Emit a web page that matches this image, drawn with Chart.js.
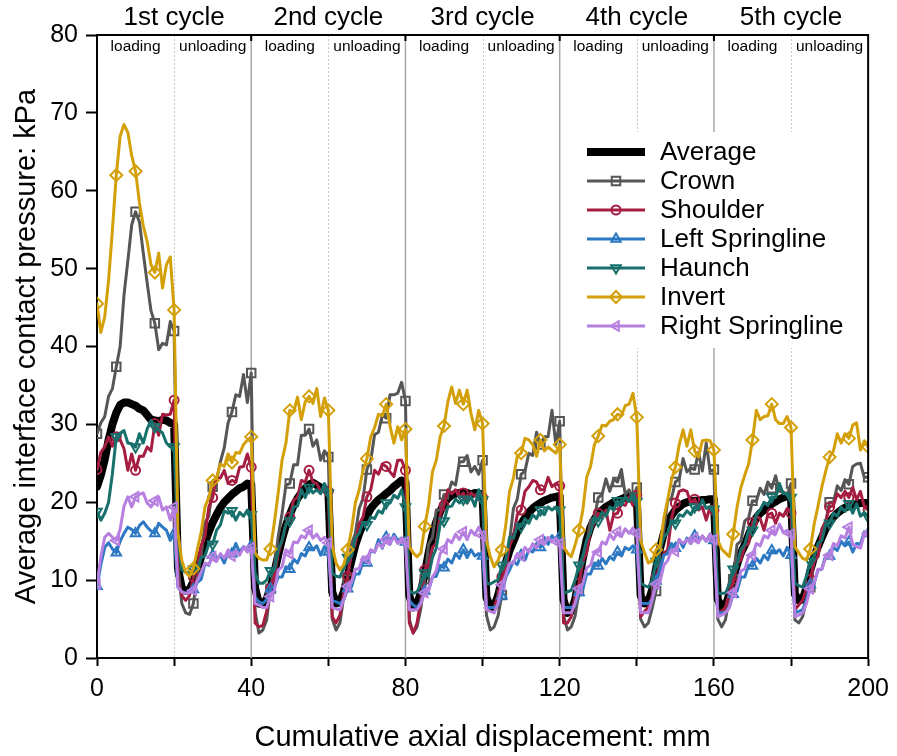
<!DOCTYPE html>
<html><head><meta charset="utf-8">
<script src="https://cdn.jsdelivr.net/npm/chart.js@4.4.1/dist/chart.umd.min.js"></script>
<style>html,body{margin:0;padding:0;background:#fff;}#wrap{width:897px;height:756px;}</style>
</head><body><div id="wrap"><canvas id="c" width="897" height="756"></canvas></div>
<script>
const displacement = [0,1,2,3,4,5,6,7,8,9,10,11,12,13,14,15,16,17,18,19,20,21,22,23,24,25,26,27,28,29,30,31,32,33,34,35,36,37,38,39,40,41,42,43,44,45,46,47,48,49,50,51,52,53,54,55,56,57,58,59,60,61,62,63,64,65,66,67,68,69,70,71,72,73,74,75,76,77,78,79,80,81,82,83,84,85,86,87,88,89,90,91,92,93,94,95,96,97,98,99,100,101,102,103,104,105,106,107,108,109,110,111,112,113,114,115,116,117,118,119,120,121,122,123,124,125,126,127,128,129,130,131,132,133,134,135,136,137,138,139,140,141,142,143,144,145,146,147,148,149,150,151,152,153,154,155,156,157,158,159,160,161,162,163,164,165,166,167,168,169,170,171,172,173,174,175,176,177,178,179,180,181,182,183,184,185,186,187,188,189,190,191,192,193,194,195,196,197,198,199,200];

const average = [22.0,23.5,25.5,28.0,30.0,31.5,32.5,32.8,32.8,32.6,32.4,32.0,31.8,31.2,30.6,30.5,30.4,30.6,30.5,30.2,
30.0,11.5,9.0,8.6,8.8,9.8,11.2,13.0,14.8,16.2,17.4,18.4,19.3,20.0,20.5,21.0,21.4,21.8,22.0,22.4,
22.3,9.0,7.0,6.9,7.6,9.0,11.0,13.2,15.3,17.0,18.4,19.6,20.5,21.2,21.8,22.3,22.5,22.2,21.9,21.7,
21.5,8.5,7.0,7.2,8.5,10.5,12.5,14.5,16.0,17.2,18.3,19.2,19.8,20.3,20.7,21.1,21.5,22.0,22.4,22.8,
22.6,8.0,6.5,6.8,8.5,10.8,13.5,15.8,17.5,18.8,19.8,20.5,20.9,21.1,21.2,21.3,21.2,21.0,21.2,21.1,
21.0,7.8,6.5,6.6,8.0,10.0,12.2,13.8,15.0,16.2,17.2,18.0,18.7,19.2,19.6,19.9,20.2,20.4,20.6,20.7,
20.8,7.5,5.8,6.0,7.5,10.0,12.8,15.2,16.8,17.8,18.6,19.0,19.4,19.7,20.0,20.2,20.4,20.6,20.7,20.8,
20.6,8.0,7.0,7.2,8.8,11.5,14.0,16.0,17.4,18.3,19.0,19.4,19.8,20.0,20.1,20.2,20.2,20.3,20.3,20.4,
20.4,7.5,6.5,6.7,8.2,10.2,12.0,13.5,14.5,15.8,17.0,18.0,18.6,19.0,19.4,19.8,20.1,20.4,20.6,20.8,
20.7,8.2,7.4,7.5,9.0,11.2,13.0,14.3,15.5,16.6,17.4,18.1,18.6,19.0,19.3,19.5,19.7,19.8,19.9,19.9,
19.9];

const crown = [28.8,30.2,31.0,33.6,34.6,37.4,40.0,46.6,51.0,55.6,57.3,56.0,52.0,48.2,44.6,43.0,39.6,40.4,40.2,43.2,
42.0,12.0,7.0,5.8,5.6,7.0,10.6,13.0,17.4,18.2,22.0,22.8,25.2,27.0,30.2,31.6,33.8,33.6,36.4,32.8,
36.6,6.0,3.2,3.6,4.9,8.9,11.6,15.6,18.6,22.2,22.4,24.8,24.8,28.6,28.6,29.4,27.2,28.0,25.4,26.6,
25.8,5.0,3.6,4.5,7.9,10.1,14.6,16.0,19.2,20.5,24.2,25.4,28.7,29.0,31.2,30.8,33.8,33.8,34.0,35.4,
33.0,5.0,3.2,4.0,6.4,10.1,14.6,15.5,19.0,19.0,21.0,21.0,22.6,22.2,25.2,25.2,26.0,23.9,24.6,23.6,
25.4,5.5,3.6,4.0,5.4,8.1,12.6,15.0,19.2,20.4,23.6,24.0,26.3,26.0,29.0,27.4,28.4,28.4,31.8,27.4,
30.4,5.5,3.6,4.0,5.4,8.6,13.1,14.6,17.7,18.0,20.6,21.0,23.0,21.4,23.0,22.6,24.2,21.0,21.6,20.2,
21.9,5.0,4.0,4.5,6.4,8.6,13.6,16.4,20.2,20.5,22.6,23.0,25.6,23.9,24.4,24.2,26.4,24.0,27.6,24.0,
24.2,5.0,4.0,4.9,7.9,10.1,14.6,15.0,17.6,18.0,20.2,20.1,21.8,21.0,22.6,21.8,23.4,21.4,21.3,21.0,
22.4,4.9,4.5,5.3,7.4,9.1,12.6,13.0,16.6,17.5,20.0,20.0,22.1,21.5,22.9,22.3,24.6,24.9,25.0,23.2,
23.2];

const shoulder = [24.2,26.4,27.1,28.4,27.2,28.4,28.0,26.9,24.1,26.2,24.1,25.9,25.9,27.1,26.6,30.1,28.6,31.3,31.2,31.3,
33.1,10.0,8.0,7.4,8.0,10.4,11.6,14.4,15.6,19.4,20.6,23.2,23.1,24.1,22.4,22.8,22.6,24.5,24.6,26.2,
24.5,4.5,4.0,4.2,6.0,8.9,10.5,13.4,15.1,17.2,18.1,20.3,20.6,22.8,22.6,24.1,22.6,22.4,21.4,22.0,
21.4,5.3,4.5,5.5,8.4,10.5,13.4,14.6,17.2,18.1,20.7,21.6,24.1,23.6,24.9,24.6,23.9,23.3,25.4,25.4,
24.1,4.5,3.2,4.5,7.5,11.3,12.1,14.2,14.7,18.4,19.6,21.6,21.1,21.6,20.6,21.2,19.9,21.2,20.8,21.2,
20.6,6.2,6.5,6.5,8.0,10.4,11.3,14.4,15.6,18.4,19.0,21.4,22.0,22.8,22.6,21.6,21.6,23.2,22.0,22.4,
22.1,4.5,4.5,5.3,7.9,9.6,12.4,13.6,16.4,17.3,18.6,18.2,19.0,16.4,18.4,18.6,19.8,19.6,20.7,19.6,
20.9,5.3,6.0,6.5,8.0,10.4,11.3,13.4,13.9,17.9,19.9,21.4,21.6,21.4,19.9,20.4,19.0,19.4,17.7,19.4,
19.0,5.8,6.0,6.5,8.4,9.6,12.1,12.6,14.4,14.7,17.4,18.2,17.9,16.4,18.4,18.6,17.3,18.6,18.2,19.2,
18.6,6.2,6.8,7.4,8.9,10.1,12.4,13.1,16.4,17.6,19.4,19.6,21.1,20.6,21.4,20.6,21.9,20.3,21.4,19.4,
19.0];

const leftSpringline = [9.2,12.0,14.2,14.8,14.0,13.5,15.0,16.0,16.8,16.5,16.0,17.0,17.5,16.8,16.3,16.0,17.3,16.8,16.4,15.1,
16.0,9.1,8.5,8.3,8.5,8.8,9.7,10.1,12.1,11.9,13.2,12.6,13.2,12.2,13.6,13.4,14.7,13.6,14.3,13.9,
14.4,7.8,7.2,7.0,7.5,8.9,9.1,10.4,10.4,11.7,11.4,12.7,12.2,13.4,13.1,14.2,13.9,14.4,13.2,14.3,
13.6,7.4,7.2,7.0,7.5,8.9,9.1,10.8,10.8,12.4,12.2,13.8,13.6,15.2,14.1,15.5,14.6,15.9,15.1,15.4,
14.9,7.4,6.8,6.5,7.2,8.6,8.7,10.4,10.5,11.9,11.6,12.7,12.2,13.4,12.8,13.9,12.9,13.9,13.1,13.4,
13.1,6.5,6.5,6.5,6.8,8.0,10.4,11.3,12.4,12.0,13.2,12.6,13.9,13.6,14.7,14.2,15.5,14.6,15.7,15.1,
15.6,6.5,6.5,6.5,6.8,8.4,8.8,10.8,10.8,12.2,11.8,12.8,12.1,13.0,12.6,13.6,13.1,14.2,13.9,14.4,
13.9,7.0,7.0,7.0,7.5,9.9,11.3,13.2,13.4,14.7,14.1,15.2,14.2,15.4,14.7,15.7,15.1,15.6,15.0,15.9,
15.1,5.8,5.8,5.8,6.5,8.2,8.6,10.4,10.4,11.9,11.8,12.8,12.2,13.2,12.6,13.8,13.5,13.9,13.1,14.2,
13.2,5.8,6.0,6.2,7.5,9.4,9.6,11.3,11.4,13.2,13.1,14.2,13.8,15.0,14.4,14.9,13.6,14.7,14.6,16.2,
16.0];

const haunch = [18.8,17.7,18.6,20.0,23.7,28.4,28.9,29.2,27.6,27.5,27.1,28.8,27.6,29.4,30.5,29.7,29.3,28.9,27.6,27.1,
27.1,15.1,11.3,11.0,10.9,11.4,11.3,12.9,13.1,14.7,14.6,16.4,17.1,18.9,18.6,18.9,17.7,18.7,18.2,19.0,
18.4,10.9,9.6,9.6,10.0,11.2,11.3,13.9,15.1,17.2,17.6,19.4,19.5,21.6,20.6,21.9,21.2,21.6,21.1,22.4,
21.2,10.9,10.5,10.4,11.5,12.9,13.1,15.4,16.0,17.4,17.1,18.1,17.9,18.9,18.6,19.9,19.9,20.9,20.5,21.6,
19.4,8.7,8.3,8.5,9.5,10.9,10.5,12.9,14.1,17.2,17.6,19.4,19.5,20.4,19.9,20.4,19.9,20.7,19.5,21.6,
20.3,9.6,9.5,9.8,10.0,11.9,12.6,15.5,15.4,16.9,16.9,17.9,17.3,18.4,17.9,19.0,18.4,19.4,19.0,19.4,
19.0,8.3,8.5,8.7,10.0,11.9,13.1,15.2,16.1,18.1,17.6,18.7,18.2,19.4,19.0,20.2,19.6,20.7,20.1,21.1,
20.1,9.6,9.3,9.1,10.0,12.4,13.9,15.5,16.1,17.6,17.3,18.4,18.2,18.9,18.4,19.4,19.1,20.3,19.2,19.4,
19.1,8.3,8.3,8.3,9.5,11.4,12.1,13.9,14.6,16.4,16.4,18.4,19.0,20.0,19.6,20.7,20.6,22.4,21.1,21.1,
20.6,9.6,9.3,9.1,10.5,12.4,13.1,14.7,15.1,17.2,17.3,18.6,18.2,19.4,18.8,19.8,18.6,19.8,18.2,18.7,
18.1];

const invert = [45.5,41.8,43.8,48.5,55.0,62.0,67.0,68.5,67.5,64.5,62.5,58.5,55.5,53.5,50.5,49.5,52.0,47.5,50.5,51.5,
44.7,16.0,12.5,11.0,10.5,11.5,13.9,16.1,19.4,20.6,22.8,23.1,24.9,24.6,26.2,25.1,26.4,26.3,27.4,28.0,
28.4,13.5,12.8,12.6,12.6,14.0,17.4,21.2,25.4,27.6,31.8,31.6,33.5,30.6,32.9,33.6,32.7,34.6,31.0,33.4,
31.8,14.5,12.2,11.3,12.0,13.9,16.4,19.9,21.6,24.1,25.6,28.4,29.6,31.3,31.1,32.6,29.8,27.6,29.7,28.0,
29.4,14.3,13.5,13.0,13.5,16.9,19.6,23.9,25.4,28.4,29.8,32.9,34.8,32.7,34.4,32.6,34.4,31.4,29.3,31.8,
30.1,15.1,13.0,11.7,12.5,13.9,17.0,21.4,23.1,25.9,26.3,28.2,28.0,27.4,25.9,28.0,26.6,27.1,26.7,26.3,
27.4,14.3,13.5,13.0,14.5,16.4,19.0,23.2,24.6,27.4,28.5,29.9,29.8,30.4,30.6,31.3,31.1,32.4,32.6,34.0,
30.9,15.1,13.5,12.2,12.5,13.9,14.3,17.9,20.3,22.9,24.5,27.4,29.3,27.2,29.3,26.6,25.8,27.9,28.0,27.9,
26.7,15.1,14.0,13.5,13.0,15.9,19.4,21.9,23.5,24.9,28.0,31.8,30.6,31.0,31.1,32.6,30.6,30.1,30.1,31.0,
29.6,14.3,13.5,12.8,12.6,14.0,17.2,19.5,22.0,24.0,25.8,26.6,28.8,27.6,28.8,28.2,29.9,30.2,26.7,27.9,
27.1];

const rightSpringline = [9.5,13.0,15.5,16.0,15.5,15.1,16.5,19.5,20.7,19.4,20.7,21.0,21.2,19.9,19.4,20.2,20.7,19.0,19.4,17.7,
19.4,9.1,8.5,8.3,8.4,8.7,9.9,11.0,12.2,12.0,13.0,12.4,13.4,12.8,13.9,13.1,13.8,13.2,14.2,13.6,
14.2,7.0,6.8,6.5,6.5,7.9,8.7,11.3,11.7,13.9,13.4,14.9,14.8,15.7,15.4,16.4,15.4,15.9,15.1,15.5,
14.8,6.5,6.3,6.2,7.5,9.2,9.7,11.4,11.5,13.0,12.7,13.9,13.6,14.7,14.2,15.2,14.7,15.6,14.7,15.4,
14.9,6.2,6.2,6.2,7.0,8.4,8.7,10.4,11.2,13.4,14.0,15.2,14.8,15.9,15.2,16.2,15.2,16.4,15.8,16.8,
15.7,6.2,6.0,5.8,7.0,9.4,10.6,12.2,12.2,13.4,13.1,14.2,13.6,14.7,14.1,15.2,14.6,15.5,14.9,15.4,
14.7,5.8,5.8,5.8,7.0,8.9,9.5,11.6,11.9,13.6,13.6,14.9,14.6,15.9,15.2,16.2,15.6,16.6,16.0,16.7,
16.0,5.8,5.8,5.8,7.5,9.5,9.7,11.9,12.5,13.9,13.7,15.2,14.7,15.2,14.7,15.4,14.8,15.7,15.0,15.9,
15.2,5.3,5.5,5.8,6.5,8.4,9.2,11.2,11.4,13.0,13.2,14.7,14.4,15.7,15.4,16.4,15.9,17.2,16.1,16.4,
15.9,5.3,5.5,5.8,7.0,8.9,9.7,11.4,11.4,12.9,13.2,14.7,14.4,15.7,15.4,16.8,14.6,14.3,14.1,15.9,
16.0];

const seriesNames = ['Average','Crown','Shoulder','Left Springline','Haunch','Invert','Right Springline'];
const cycleLabels = ['1st cycle','2nd cycle','3rd cycle','4th cycle','5th cycle'];
const phaseLabels = ['loading','unloading'];
const cycleBoundaries = [40,80,120,160];
const phaseBoundaries = [20,60,100,140,180];
const labelledXTicks = [0,40,80,120,160,200];

const FONT = '"Liberation Sans", Arial, Helvetica, sans-serif';

function pts(arr){ return arr.map((v,i)=>({x: displacement[i], y: v})); }
function markerRadius(r){ return ctx => (ctx.dataIndex % 5 === 0 ? r : 0); }

const styles = [
  {data: average, color:'#000000', width:8, style:false, rot:0, r:0, order:6},
  {data: crown, color:'#565656', width:3, style:'rect', rot:0, r:6, order:5},
  {data: shoulder, color:'#A51D40', width:3, style:'circle', rot:0, r:4.5, order:4},
  {data: leftSpringline, color:'#2C78C2', width:3, style:'triangle', rot:0, r:5.5, order:3},
  {data: haunch, color:'#17706C', width:3, style:'triangle', rot:180, r:5.5, order:2},
  {data: invert, color:'#D4A00A', width:3, style:'rectRot', rot:0, r:6, order:1},
  {data: rightSpringline, color:'#B67FE0', width:3, style:'triangle', rot:270, r:5.5, order:0}
];

const datasets = styles.map((s,i)=>({
  label: seriesNames[i],
  data: pts(s.data),
  borderColor: s.color,
  backgroundColor: s.color,
  borderWidth: s.width,
  tension: 0,
  order: s.order,
  pointStyle: s.style || 'circle',
  pointRotation: s.rot,
  pointRadius: s.style ? markerRadius(s.r) : 0,
  markerSize: s.r,
  pointBorderWidth: 2,
  pointBorderColor: s.color,
  pointBackgroundColor: 'rgba(255,255,255,0)',
  pointHoverRadius: 0,
  borderJoinStyle: 'round',
  borderCapStyle: 'round'
}));

function drawMarker(ctx, style, rot, r, x, y){
  if (Chart.helpers && Chart.helpers.drawPoint){
    Chart.helpers.drawPoint(ctx, {pointStyle: style, rotation: rot, radius: r, borderWidth: 2}, x, y);
  }
}

const decor = {
  id: 'decor',
  beforeDatasetsDraw(chart){
    const {ctx, chartArea: a, scales: {x}} = chart;
    ctx.save();
    ctx.lineWidth = 1;
    ctx.strokeStyle = '#c8c8c8';
    ctx.setLineDash([2,2]);
    phaseBoundaries.forEach(v=>{
      const px = Math.round(x.getPixelForValue(v)) + 0.5;
      ctx.beginPath(); ctx.moveTo(px, a.top); ctx.lineTo(px, a.bottom); ctx.stroke();
    });
    ctx.setLineDash([]);
    ctx.strokeStyle = '#a8a8a8';
    ctx.lineWidth = 1.5;
    cycleBoundaries.forEach(v=>{
      const px = x.getPixelForValue(v);
      ctx.beginPath(); ctx.moveTo(px, a.top); ctx.lineTo(px, a.bottom); ctx.stroke();
    });
    ctx.fillStyle = '#ffffff';
    const lx = x.getPixelForValue(122.5);
    ctx.fillRect(lx, 132, a.right - 4 - lx, 216);
    ctx.restore();
  },
  afterDraw(chart){
    const {ctx, chartArea: a, scales: {x}} = chart;
    ctx.save();
    ctx.strokeStyle = '#000'; ctx.lineWidth = 2;
    ctx.beginPath();
    ctx.moveTo(a.left, a.top); ctx.lineTo(a.right, a.top); ctx.lineTo(a.right, a.bottom);
    ctx.stroke();
    cycleBoundaries.forEach(v=>{
      const px = x.getPixelForValue(v);
      ctx.beginPath(); ctx.moveTo(px, a.top); ctx.lineTo(px, a.top + 6); ctx.stroke();
    });
    ctx.fillStyle = '#000';
    ctx.textAlign = 'center'; ctx.textBaseline = 'middle';
    ctx.font = '26px ' + FONT;
    cycleLabels.forEach((t,i)=>{
      ctx.fillText(t, x.getPixelForValue(i*40 + 20), a.top - 17);
    });
    ctx.font = '15.5px ' + FONT;
    cycleLabels.forEach((t,i)=>{
      ctx.fillText(phaseLabels[0], x.getPixelForValue(i*40 + 10), a.top + 12);
      ctx.fillText(phaseLabels[1], x.getPixelForValue(i*40 + 30), a.top + 12);
    });
    ctx.textAlign = 'left';
    ctx.font = '26px ' + FONT;
    chart.data.datasets.forEach((ds,i)=>{
      const yy = 152 + i*29;
      ctx.strokeStyle = ds.borderColor;
      ctx.lineWidth = i === 0 ? 8 : 3;
      ctx.lineCap = 'butt';
      ctx.beginPath(); ctx.moveTo(587, yy); ctx.lineTo(645, yy); ctx.stroke();
      if (i > 0){
        ctx.lineWidth = 2;
        ctx.fillStyle = 'rgba(255,255,255,0)';
        drawMarker(ctx, ds.pointStyle, ds.pointRotation, ds.markerSize, 616, yy);
      }
      ctx.fillStyle = '#000';
      ctx.fillText(ds.label, 660, yy + 1);
    });
    ctx.restore();
  }
};

new Chart(document.getElementById('c'), {
  type: 'line',
  data: { datasets },
  options: {
    responsive: false,
    animation: false,
    devicePixelRatio: 1,
    normalized: true,
    layout: { padding: { top: 35, right: 27, left: 0, bottom: 0 } },
    plugins: { legend: { display: false }, tooltip: { enabled: false } },
    elements: { line: { fill: false } },
    scales: {
      x: {
        type: 'linear', min: 0, max: 200,
        afterFit(s){ s.height = 98; },
        ticks: {
          stepSize: 20, autoSkip: false, maxRotation: 0, padding: 8,
          color: '#000', font: { family: FONT, size: 25 },
          callback: v => labelledXTicks.includes(v) ? String(v) : ''
        },
        grid: { drawOnChartArea: false, drawTicks: true, tickLength: 8, tickColor: '#000', tickWidth: 2 },
        border: { color: '#000', width: 2 },
        title: { display: true, text: 'Cumulative axial displacement: mm', color: '#000',
                 font: { family: FONT, size: 29 }, padding: { top: 0, bottom: 1 } }
      },
      y: {
        min: 0, max: 80,
        afterFit(s){ s.width = 97; },
        ticks: { stepSize: 10, padding: 8, color: '#000', font: { family: FONT, size: 25 } },
        grid: { drawOnChartArea: false, drawTicks: true, tickLength: 11, tickColor: '#000', tickWidth: 2 },
        border: { color: '#000', width: 2 },
        title: { display: true, text: 'Average interface contact pressure: kPa', color: '#000',
                 font: { family: FONT, size: 29 }, padding: { top: 10, bottom: 0 } }
      }
    }
  },
  plugins: [decor]
});
</script></body></html>
